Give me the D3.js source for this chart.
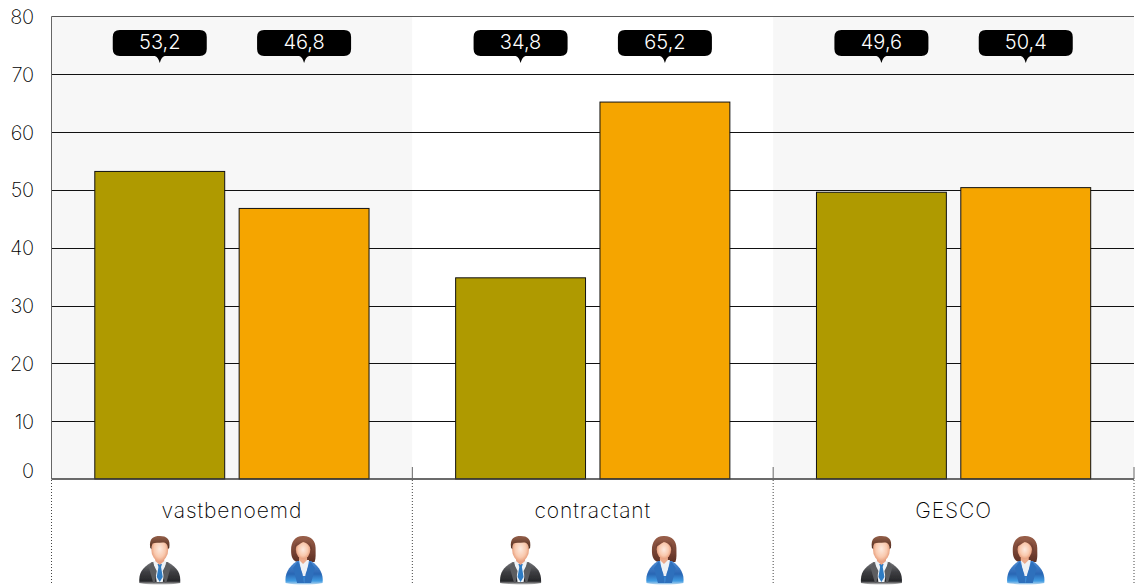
<!DOCTYPE html>
<html><head><meta charset="utf-8">
<style>html,body{margin:0;padding:0;background:#fff}svg{display:block}text{font-family:"Inter","Lato",sans-serif}</style>
<script src="https://cdnjs.cloudflare.com/ajax/libs/d3/7.8.5/d3.min.js"></script>
</head><body><svg id="c" width="1140" height="585"></svg>
<script>
const categories=["vastbenoemd","contractant","GESCO"];
const series=["man","vrouw"];
const manValues=[53.2,34.8,49.6];
const vrouwValues=[46.8,65.2,50.4];
const yTicks=[0,10,20,30,40,50,60,70,80];
const seriesColors=["#af9a00","#f5a500"];
const fmt=v=>String(v.toFixed(1)).replace(".",",");

const svg=d3.select("#c");
const L=51.5,R=1134,T=16.5,B=479;
const x=d3.scaleBand().domain(categories).range([L,R]);
const y=d3.scaleLinear().domain([0,80]).range([B,T]);
const inner=d3.scaleBand().domain(series).range([0,x.bandwidth()]).paddingInner(0.1).paddingOuter(0.3);
const valuesOf=[manValues,vrouwValues];

const defs=svg.append("defs");
function grad(id,stops,hor){const g=defs.append("linearGradient").attr("id",id).attr("x1",0).attr("y1",0).attr("x2",hor?1:0).attr("y2",hor?0:1);
 stops.forEach(s=>g.append("stop").attr("offset",s[0]).attr("stop-color",s[1]));}
function rad(id,stops){const g=defs.append("radialGradient").attr("id",id).attr("cx",.5).attr("cy",.5).attr("r",.6);
 stops.forEach(s=>g.append("stop").attr("offset",s[0]).attr("stop-color",s[1]));}
rad("skin",[[0,"#fdeadf"],[.55,"#f9c9ae"],[1,"#dd8762"]]);
grad("suit",[[0,"#77787b"],[.45,"#3d3e42"],[.85,"#26272a"],[1,"#c8c8c8"]]);
grad("blue",[[0,"#4f8fd6"],[.55,"#2a66b4"],[.85,"#3f9be2"],[1,"#bcd8ee"]]);
grad("hairM",[[0,"#94604a"],[1,"#4f2a1c"]]);
grad("hairF",[[0,"#9a604a"],[1,"#5e2f24"]]);
const blur=defs.append("filter").attr("id","soft").attr("x","-10%").attr("y","-10%").attr("width","120%").attr("height","120%");
blur.append("feGaussianBlur").attr("stdDeviation",0.4);

svg.append("g").selectAll("rect").data(categories).join("rect")
 .attr("x",d=>x(d)).attr("y",T).attr("width",x.bandwidth()).attr("height",B-T)
 .attr("fill",(d,i)=>i%2?"#ffffff":"#f7f7f7");

svg.append("g").selectAll("line").data(yTicks.filter(t=>t>0)).join("line")
 .attr("x1",L).attr("x2",R).attr("y1",d=>Math.round(y(d))+.5-(d===80?1:0)).attr("y2",d=>Math.round(y(d))+.5-(d===80?1:0))
 .attr("stroke",d=>d===80?"#555":"#111").attr("stroke-width",1);

svg.append("g").selectAll("text").data(yTicks).join("text")
 .attr("x",34).attr("y",d=>d===0?473:y(d)+2).attr("text-anchor","end").attr("dominant-baseline","middle")
 .attr("font-size",20).attr("font-weight",250).attr("letter-spacing",-0.2).attr("fill","#000").text(d=>d);

const groups=svg.append("g").selectAll("g").data(categories).join("g").attr("transform",d=>`translate(${x(d)},0)`);
groups.selectAll("rect").data((d,i)=>series.map((s,j)=>({s,j,v:valuesOf[j][i]}))).join("rect")
 .attr("x",d=>inner(d.s)).attr("width",inner.bandwidth())
 .attr("y",d=>y(d.v)).attr("height",d=>B-y(d.v))
 .attr("fill",d=>seriesColors[d.j]).attr("stroke","#111").attr("stroke-width",1);

const ax=svg.append("g").attr("fill","none");
ax.append("line").attr("x1",L).attr("x2",R).attr("y1",B).attr("y2",B).attr("stroke","#3a3a3a").attr("stroke-width",1.5);
ax.append("line").attr("x1",L).attr("x2",L).attr("y1",T).attr("y2",B).attr("stroke","#666");
const bounds=categories.map(c=>x(c)).concat([R]);
bounds.slice(1).forEach(b=>ax.append("line").attr("x1",b).attr("x2",b).attr("y1",467).attr("y2",B).attr("stroke","#666"));
bounds.forEach(b=>ax.append("line").attr("x1",b).attr("x2",b).attr("y1",B+1).attr("y2",585).attr("stroke","#444").attr("stroke-dasharray","1 2"));

const cw=94,ch=26,cy=30;
groups.each(function(c,i){
 const g=d3.select(this);
 series.forEach((s,j)=>{
  const cx=inner(s)+inner.bandwidth()/2;
  const v=valuesOf[j][i];
  const t=g.append("g").attr("transform",`translate(${cx},${cy})`);
  const p=d3.path();
  const r=7,a=-cw/2,b=cw/2;
  p.moveTo(a+r,0);p.lineTo(b-r,0);p.quadraticCurveTo(b,0,b,r);p.lineTo(b,ch-r);p.quadraticCurveTo(b,ch,b-r,ch);
  p.lineTo(5,ch);p.quadraticCurveTo(1.5,ch+1,0,ch+7);p.quadraticCurveTo(-1.5,ch+1,-5,ch);
  p.lineTo(a+r,ch);p.quadraticCurveTo(a,ch,a,ch-r);p.lineTo(a,r);p.quadraticCurveTo(a,0,a+r,0);p.closePath();
  t.append("path").attr("d",p.toString()).attr("fill","#000");
  t.append("text").attr("y",14).attr("text-anchor","middle").attr("dominant-baseline","middle")
   .attr("font-size",20).attr("font-weight",300).attr("fill","#fff").text(fmt(v));
 });
 g.append("text").attr("x",x.bandwidth()/2).attr("y",518).attr("text-anchor","middle")
  .attr("font-size",21).attr("font-weight",250).attr("letter-spacing",0.9).attr("fill","#000").text(c);
 series.forEach(s=>{
  const cx=inner(s)+inner.bandwidth()/2;
  const ic=g.append("g").attr("transform",`translate(${cx},536)`).attr("filter","url(#soft)");
  if(s==="man") drawMan(ic); else drawWoman(ic);
 });
});

function drawMan(g){
 g.append("path").attr("d","M-20.5 47 C-21 37 -18 32 -8 26 L8 26 C18 32 21 37 20.5 47 C10 49 -10 49 -20.5 47 Z").attr("fill","url(#suit)");
 g.append("path").attr("d","M-6.5 25 L6.5 25 L3 46 L-3 46 Z").attr("fill","#eef3f7");
 g.append("path").attr("d","M-2.2 28 L2.2 28 L1.3 31 L3 41 L0 46 L-3 41 L-1.3 31 Z").attr("fill","#2f7cc4");
 g.append("path").attr("d","M-7.5 26 L-3 35 L-5 47 L-6.5 47 L-11 31 Z M7.5 26 L3 35 L5 47 L6.5 47 L11 31 Z").attr("fill","#5c5d61");
 g.append("path").attr("d","M-4.5 19 L4.5 19 L4.5 25 L0 29 L-4.5 25 Z").attr("fill","#e9a283");
 g.append("ellipse").attr("cx",0).attr("cy",13).attr("rx",8.5).attr("ry",12.5).attr("fill","url(#skin)");
 g.append("path").attr("d","M-9.5 12 C-11 2 -6 0 0 0 C7 0 11 3 9.5 12 L8.2 13 C8.2 8 6 6.5 3 6.5 C-1 7 -5 6.5 -7 7.5 C-8 9 -8.2 11 -8.2 13 Z").attr("fill","url(#hairM)");
}
function drawWoman(g){
 g.append("path").attr("d","M-1.5 0 C7 -0.5 11.5 5 11.5 12 C11.5 18 12 22 10.5 26 L-7 26 C-12 24 -13 20 -13 14 C-13 6 -9 0 -1.5 0 Z").attr("fill","url(#hairF)");
 g.append("path").attr("d","M-18.5 47 C-19.5 38 -16 31 -7 25 L7 25 C16 31 19.5 38 18.5 47 C8 49 -8 49 -18.5 47 Z").attr("fill","url(#blue)");
 g.append("path").attr("d","M-5 24 L5 24 L2 40 L-2 40 Z").attr("fill","#eef1f5");
 g.append("path").attr("d","M-6 25 L-1.5 38 L0 47 L-7 47 L-11 32 Z M6 25 L1.5 38 L0 47 L7 47 L11 32 Z").attr("fill","#2f6fbc");
 g.append("path").attr("d","M-5 18 L3 18 L3 24 L-1 28 L-5 24 Z").attr("fill","#eba98a");
 g.append("ellipse").attr("cx",-1).attr("cy",13.5).attr("rx",7.2).attr("ry",9.5).attr("fill","url(#skin)");
 g.append("path").attr("d","M-9 12 C-9.5 5 -5 2 0 2.5 C5 3 8.5 8 7.5 15 C6.5 11 4 7 -1 6 C-4 8 -7 9 -9 12 Z").attr("fill","url(#hairF)");
}
</script></body></html>
